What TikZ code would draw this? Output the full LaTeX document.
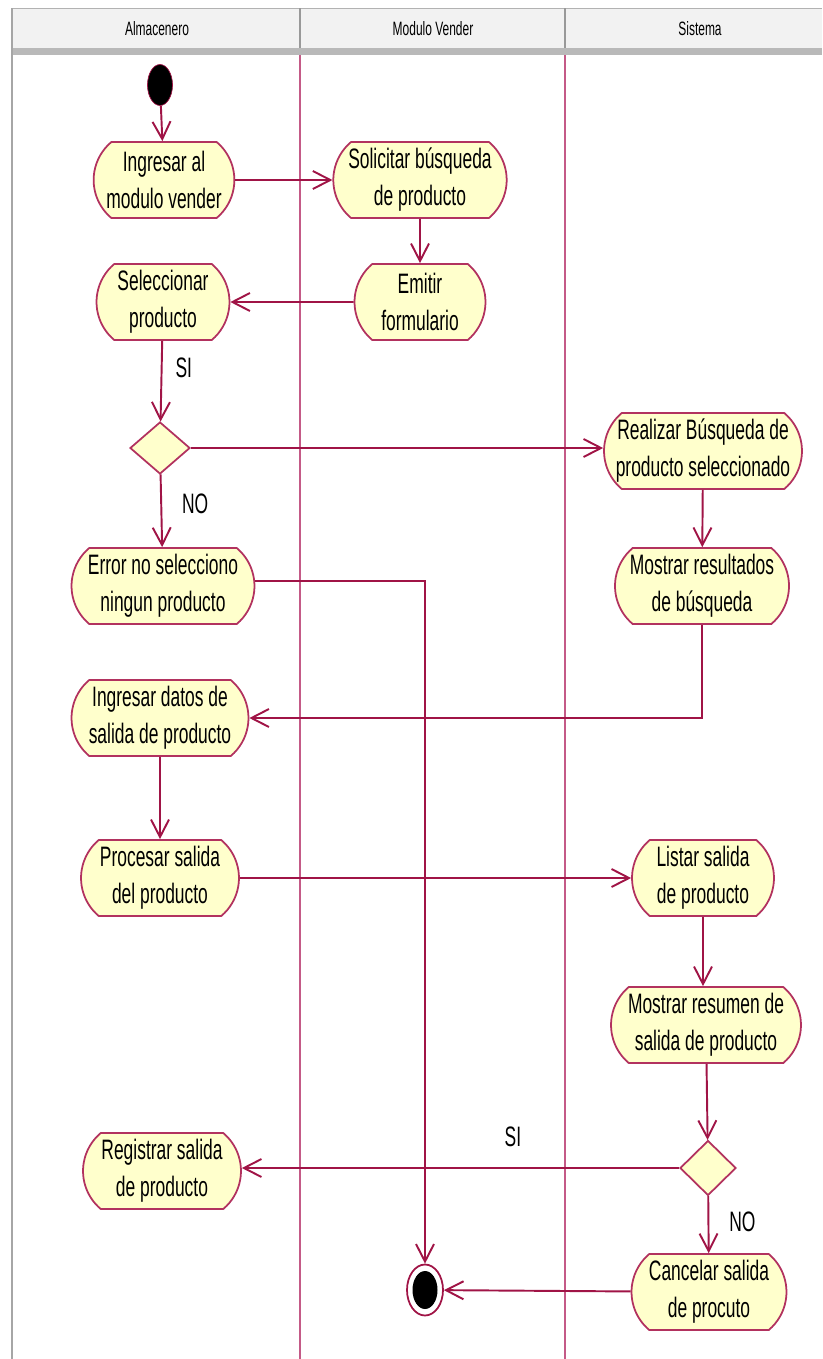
\documentclass[tikz,border=0pt]{standalone}
\usepackage{fontspec}
\setmainfont{Liberation Sans}[FakeStretch=0.62]
\usepackage{tikz}
\usetikzlibrary{arrows.meta}
\usetikzlibrary{shapes.geometric,shapes.misc,positioning}

\definecolor{linea}{RGB}{160,20,70}
\definecolor{borde}{RGB}{178,50,95}
\definecolor{relleno}{RGB}{255,255,204}
\definecolor{carril}{RGB}{196,90,135}

\begin{document}
\begin{tikzpicture}[x=0.02cm,y=-0.02cm,
    actividad/.style={rounded rectangle,rounded rectangle arc length=100,draw=borde,fill=relleno,
      line width=1pt,minimum height=1.52cm,inner xsep=2pt,align=center,font=\fontsize{16}{21}\selectfont},
    decision/.style={diamond,draw=borde,fill=relleno,line width=1pt,minimum width=1.2cm,minimum height=1.04cm,inner sep=0pt},
    flujo/.style={draw=linea,line width=1.1pt,-{Straight Barb[length=3.5mm,width=3.6mm]}},
    etiqueta/.style={font=\fontsize{16}{20}\selectfont}]
  \useasboundingbox (0,0) rectangle (822,1359);
  %%% carriles
  \fill[gray!10] (12,8) rectangle (822,48);
  \fill[gray!55] (12,48) rectangle (822,55);
  \draw[gray!60] (12,8) -- (822,8);
  \foreach \x in {300,565}
    \draw[gray!80,line width=1pt] (\x,8) -- (\x,48);
  \foreach \x in {300,565}
    \draw[carril,line width=0.8pt] (\x,55) -- (\x,1359);
  \draw[gray!70,line width=1.2pt] (12,8) -- (12,1359);
  \node[font=\fontsize{11}{13}\selectfont] (hAlm) at (157,29) {Almacenero};
  \node[font=\fontsize{11}{13}\selectfont] (hMod) at (433,29) {Modulo Vender};
  \node[font=\fontsize{11}{13}\selectfont] (hSis) at (700,29) {Sistema};
  %%% inicio y fin
  \node[ellipse,draw=linea,fill=black,minimum width=0.5cm,minimum height=0.82cm,inner sep=0pt] (inicio) at (160,85) {};
  \node[ellipse,draw=linea,line width=1pt,fill=white,minimum width=0.72cm,minimum height=1.02cm,inner sep=0pt] (fin) at (425,1290) {};
  \node[ellipse,fill=black,minimum width=0.5cm,minimum height=0.76cm,inner sep=0pt] (finc) at (fin) {};
  %%% actividades
  \node[actividad,minimum width=2.76cm] (ingresar) at (164,180) {Ingresar al\\modulo vender};
  \node[actividad,minimum width=3.3cm] (solicitar) at (420,180) {Solicitar búsqueda\\de producto};
  \node[actividad,minimum width=2.76cm] (emitir) at (420,302) {Emitir\\formulario};
  \node[actividad,minimum width=2.8cm] (seleccionar) at (163,302) {Seleccionar\\producto};
  \node[decision] (dec1) at (160,448) {};
  \node[actividad,minimum width=3.8cm] (error) at (163,586) {Error no selecciono\\ningun producto};
  \node[actividad,minimum width=4.1cm] (realizar) at (703,451) {Realizar Búsqueda de\\producto seleccionado};
  \node[actividad,minimum width=3.34cm] (mostrar) at (702,586) {Mostrar resultados\\de búsqueda};
  \node[actividad,minimum width=3.68cm] (datos) at (160,718) {Ingresar datos de\\salida de producto};
  \node[actividad,minimum width=3.3cm] (procesar) at (160,878) {Procesar salida\\del producto};
  \node[actividad,minimum width=2.98cm] (listar) at (703,878) {Listar salida\\de producto};
  \node[actividad,minimum width=3.94cm] (resumen) at (706,1025) {Mostrar resumen de\\salida de producto};
  \node[decision,minimum width=1.12cm,minimum height=1.1cm] (dec2) at (708,1168) {};
  \node[actividad,minimum width=3.3cm] (registrar) at (162,1171) {Registrar salida\\de producto};
  \node[actividad,minimum width=3.24cm] (cancelar) at (709,1292) {Cancelar salida\\de procuto};
  %%% flujos
  \draw[flujo] (inicio) -- (ingresar);
  \draw[flujo] (ingresar) -- (solicitar);
  \draw[flujo] (solicitar) -- (emitir);
  \draw[flujo] (emitir) -- (seleccionar);
  \draw[flujo] (seleccionar) -- node[etiqueta,pos=.33,right=4pt] (si1) {SI} (dec1);
  \draw[flujo] (dec1) -- (realizar.west |- dec1);
  \draw[flujo] (dec1) -- node[etiqueta,pos=.4,right=8pt] (no1) {NO} (error);
  \draw[flujo] ([yshift=0.1cm]error.east) -| (fin);
  \draw[flujo] (realizar) -- (mostrar);
  \draw[flujo] (mostrar) |- (datos);
  \draw[flujo] (datos) -- (procesar);
  \draw[flujo] (procesar) -- (listar);
  \draw[flujo] (listar) -- (resumen.north -| listar);
  \draw[flujo] (resumen) -- (dec2);
  \draw[flujo] (dec2) -- node[etiqueta,pos=.38,above=8pt] (si2) {SI} (registrar.east |- dec2);
  \draw[flujo] (dec2) -- node[etiqueta,pos=.45,right=8pt] (no2) {NO} (cancelar);
  \draw[flujo] (cancelar) -- (fin);
\end{tikzpicture}
\end{document}
